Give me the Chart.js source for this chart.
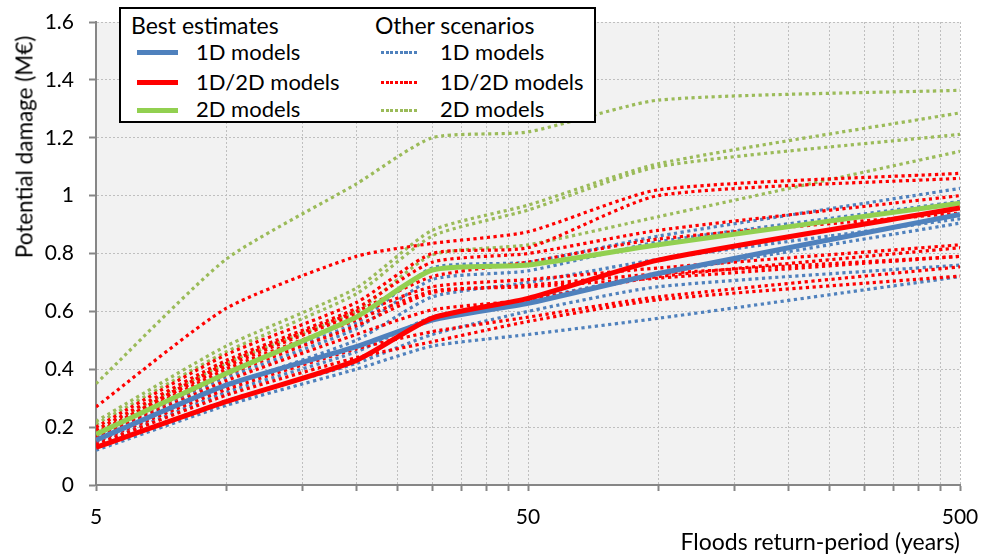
<!DOCTYPE html>
<html>
<head>
<meta charset="utf-8">
<title>Potential damage vs return period</title>
<script src="https://cdn.jsdelivr.net/npm/chart.js@4.4.0/dist/chart.umd.min.js"></script>
<style>
    html, body { margin: 0; padding: 0; background: #fff; }
    #wrap { position: relative; width: 981px; height: 558px; font-family: Lato, sans-serif; color: #000; }
    #ytitle {
        position: absolute; left: 24px; top: 147px;
        transform: translate(-50%, -50%) rotate(-90deg);
        font-size: 22.5px; white-space: nowrap;
    }
    #legend {
        position: absolute; left: 119px; top: 7px; width: 473px; height: 112px;
        border: 2px solid #000; background: #fff;
    }
    .lg-text { position: absolute; font-size: 22px; line-height: 26px; white-space: nowrap; }
    .lg-head { font-size: 23px; }
    .lg-solid { position: absolute; width: 41px; height: 5px; }
    .lg-dot { position: absolute; width: 38px; height: 3px; }
</style>
</head>
<body>
<div id="wrap">
    <canvas id="damage-chart"></canvas>
    <div id="ytitle">Potential damage (M€)</div>
    <div id="legend">
        <div class="lg-text lg-head" style="left:10px;top:3px">Best estimates</div>
        <div class="lg-solid" style="left:16px;top:40.5px;background:#4f81bd"></div>
        <div class="lg-text" style="left:75px;top:29.5px">1D models</div>
        <div class="lg-solid" style="left:16px;top:70.5px;background:#ff0000"></div>
        <div class="lg-text" style="left:75px;top:59.5px">1D/2D models</div>
        <div class="lg-solid" style="left:16px;top:98.5px;background:#92d050"></div>
        <div class="lg-text" style="left:75px;top:86.5px">2D models</div>

        <div class="lg-text lg-head" style="left:254px;top:3px">Other scenarios</div>
        <div class="lg-dot" style="left:260px;top:41.5px;background:repeating-linear-gradient(to right,#4f81bd 0 3px,transparent 3px 4.7px)"></div>
        <div class="lg-text" style="left:319px;top:29.5px">1D models</div>
        <div class="lg-dot" style="left:260px;top:71.5px;background:repeating-linear-gradient(to right,#ff0000 0 3px,transparent 3px 4.7px)"></div>
        <div class="lg-text" style="left:319px;top:59.5px">1D/2D models</div>
        <div class="lg-dot" style="left:260px;top:99.5px;background:repeating-linear-gradient(to right,#9bbb59 0 3px,transparent 3px 4.7px)"></div>
        <div class="lg-text" style="left:319px;top:86.5px">2D models</div>
    </div>
</div>
<script>
// return periods (years) where damage was computed
const returnPeriods = [5, 10, 20, 30, 50, 100, 500];

// x grid / tick positions and which of them get a label
const xGridTicks = [5, 10, 15, 20, 25, 30, 35, 40, 45, 50, 100, 150, 200, 250, 300, 350, 400, 450, 500];
const xTickLabels = [5, 50, 500];

// best estimates (M€)
const best1D = [0.155, 0.345, 0.478, 0.57, 0.628, 0.731, 0.935];
const best1D2D = [0.13, 0.288, 0.43, 0.577, 0.645, 0.777, 0.957];
const best2D = [0.175, 0.385, 0.58, 0.743, 0.76, 0.83, 0.974];

// other scenarios, 1D models
const other1D = [
    [0.12, 0.275, 0.40, 0.48, 0.52, 0.576, 0.72],
    [0.13, 0.29, 0.42, 0.52, 0.60, 0.685, 0.76],
    [0.14, 0.32, 0.46, 0.58, 0.64, 0.73, 0.905],
    [0.15, 0.34, 0.50, 0.65, 0.70, 0.78, 0.92],
    [0.16, 0.37, 0.54, 0.71, 0.74, 0.84, 0.98],
    [0.17, 0.39, 0.56, 0.75, 0.77, 0.86, 1.025]
];

// other scenarios, 1D/2D models
const other1D2D = [
    [0.27, 0.61, 0.79, 0.835, 0.875, 1.02, 1.077],
    [0.20, 0.45, 0.63, 0.80, 0.82, 1.00, 1.06],
    [0.19, 0.43, 0.61, 0.77, 0.80, 0.88, 1.00],
    [0.18, 0.41, 0.59, 0.685, 0.71, 0.75, 0.83],
    [0.17, 0.40, 0.57, 0.67, 0.685, 0.715, 0.79],
    [0.165, 0.38, 0.55, 0.665, 0.69, 0.73, 0.79],
    [0.16, 0.36, 0.52, 0.605, 0.64, 0.72, 0.82],
    [0.15, 0.33, 0.47, 0.53, 0.58, 0.65, 0.754],
    [0.14, 0.31, 0.44, 0.495, 0.565, 0.64, 0.722],
    [0.175, 0.42, 0.60, 0.72, 0.77, 0.85, 0.94]
];

// other scenarios, 2D models
const other2D = [
    [0.35, 0.78, 1.04, 1.20, 1.22, 1.33, 1.364],
    [0.22, 0.48, 0.68, 0.88, 0.967, 1.11, 1.286],
    [0.21, 0.46, 0.66, 0.86, 0.95, 1.10, 1.212],
    [0.19, 0.42, 0.60, 0.795, 0.83, 0.927, 1.153]
];

const BLUE = '#4f81bd';
const RED = '#ff0000';
const GREEN = '#92d050';
const GREEN_DOT = '#9bbb59';

const datasets = [];

function addSeries(values, color, dotted) {
    datasets.push({
        data: values.map((v, i) => ({ x: returnPeriods[i], y: v })),
        borderColor: color,
        borderWidth: dotted ? 3.2 : 5,
        borderDash: dotted ? [3.2, 3.5] : [],
        pointRadius: 0,
        tension: 0.2,
        fill: false
    });
}

// first datasets end up on top
addSeries(best1D2D, RED, false);
addSeries(best1D, BLUE, false);
addSeries(best2D, GREEN, false);
other1D2D.forEach(s => addSeries(s, RED, true));
other1D.forEach(s => addSeries(s, BLUE, true));
other2D.forEach(s => addSeries(s, GREEN_DOT, true));

const plotBackground = {
    id: 'plotBackground',
    beforeDraw(chart) {
        const { ctx, chartArea: a } = chart;
        ctx.save();
        ctx.fillStyle = '#f2f2f2';
        ctx.fillRect(a.left, a.top, a.right - a.left, a.bottom - a.top);
        ctx.restore();
    }
};

Chart.defaults.font.family = 'Lato, sans-serif';
Chart.defaults.color = '#000';

const gridStyle = { color: '#bfbfbf', lineWidth: 1, tickColor: '#868686', tickWidth: 2 };
const borderStyle = { color: '#868686', width: 2, dash: [2, 2] };

new Chart(document.getElementById('damage-chart'), {
    type: 'line',
    data: { datasets: datasets },
    options: {
        responsive: true,
        maintainAspectRatio: false,
        animation: false,
        layout: { padding: { top: 22, right: 21, left: 0, bottom: 0 } },
        plugins: {
            legend: { display: false },
            tooltip: { enabled: false }
        },
        scales: {
            x: {
                type: 'logarithmic',
                min: 5,
                max: 500,
                afterBuildTicks: scale => { scale.ticks = xGridTicks.map(v => ({ value: v })); },
                afterFit: scale => {
                    scale.height = 73;
                    scale.paddingLeft = 0;
                    scale.paddingRight = 0;
                },
                ticks: {
                    autoSkip: false,
                    maxRotation: 0,
                    padding: 14,
                    font: { size: 21 },
                    callback: v => xTickLabels.includes(v) ? String(v) : ''
                },
                grid: Object.assign({ tickLength: 6 }, gridStyle),
                border: borderStyle,
                title: {
                    display: true,
                    text: 'Floods return-period (years)',
                    align: 'end',
                    font: { size: 23 },
                    padding: { top: 0, bottom: 2 }
                }
            },
            y: {
                min: 0,
                max: 1.6,
                afterFit: scale => {
                    scale.width = 96;
                    scale.paddingTop = 0;
                    scale.paddingBottom = 0;
                },
                ticks: {
                    stepSize: 0.2,
                    padding: 15,
                    font: { size: 21 },
                    callback: v => String(+v.toFixed(1))
                },
                grid: Object.assign({ tickLength: 7 }, gridStyle),
                border: borderStyle
            }
        }
    },
    plugins: [plotBackground]
});
</script>
</body>
</html>
